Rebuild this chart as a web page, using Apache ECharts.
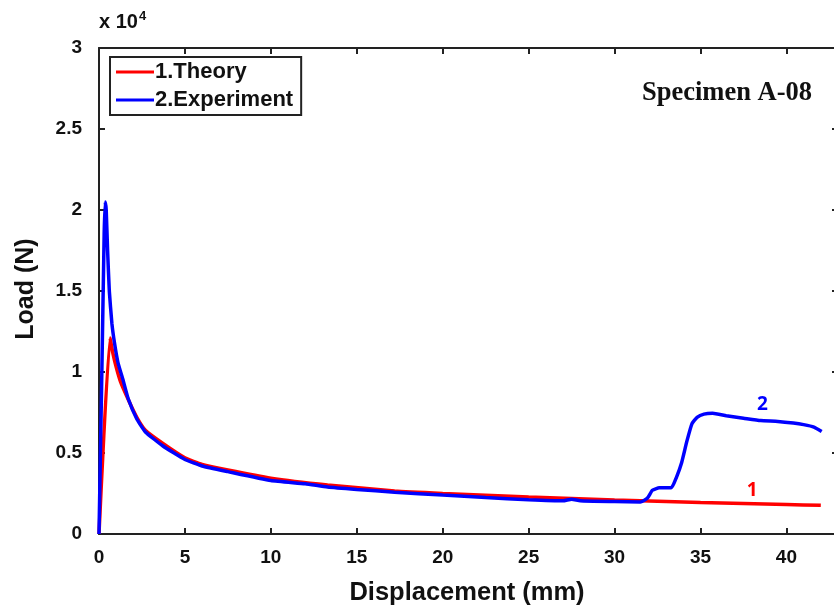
<!DOCTYPE html>
<html>
<head>
<meta charset="utf-8">
<script src="https://cdn.jsdelivr.net/npm/echarts@6/dist/echarts.min.js"></script>
<style>html,body{margin:0;padding:0;background:#fff;}#c{width:834px;height:608px;}</style>
</head>
<body>
<div id="c"></div>
<script>
// Displacement (mm), Load (x10^4 N)
const theoryX = [0, 0.64, 0.8, 1.0, 1.25, 1.7, 2.2, 2.7, 3.7, 5, 6, 7.5, 10, 13.3, 17.2, 20, 25, 30, 35, 40, 42];
const theoryY = [0, 1.21, 1.12, 1.03, 0.94, 0.83, 0.72, 0.64, 0.56, 0.47, 0.43, 0.395, 0.345, 0.303, 0.265, 0.25, 0.228, 0.21, 0.195, 0.182, 0.177];
const expX = [0, 0.15, 0.3, 0.36, 0.42, 0.5, 0.6, 0.75, 0.9, 1.1, 1.4, 1.7, 2.2, 2.7, 3.7, 5, 6, 7.5, 10, 12, 13.3, 15, 17.2, 20, 22.5, 25, 27, 27.5, 28, 30, 31.5, 31.9, 32.2, 32.6, 33.3, 33.6, 33.9, 34.2, 34.5, 34.8, 35.2, 35.7, 36.5, 37.5, 38.5, 39.5, 40.4, 41, 41.6, 42.05];
const expY = [0, 0.9, 1.85, 2.05, 2.0, 1.75, 1.5, 1.3, 1.18, 1.06, 0.95, 0.835, 0.71, 0.63, 0.545, 0.46, 0.42, 0.385, 0.33, 0.31, 0.29, 0.275, 0.258, 0.24, 0.225, 0.212, 0.205, 0.215, 0.205, 0.2, 0.197, 0.22, 0.27, 0.285, 0.285, 0.35, 0.44, 0.57, 0.68, 0.72, 0.74, 0.745, 0.73, 0.715, 0.70, 0.695, 0.685, 0.675, 0.66, 0.633];
const xTicks = [0, 5, 10, 15, 20, 25, 30, 35, 40];
const yTicks = [0, 0.5, 1, 1.5, 2, 2.5, 3];
const seriesNames = ['1.Theory', '2.Experiment'];
const curveTags = ['1', '2'];
const tagPos = [[38.0, 0.27], [38.6, 0.80]];

const theory = theoryX.map((x, i) => [x, theoryY[i]]);
const exp = expX.map((x, i) => [x, expY[i]]);

const SANS = '"Liberation Sans", Arial, sans-serif';
function axLine() { return { show: true, onZero: false, lineStyle: { color: '#222', width: 2 } }; }
function axTick() { return { show: true, inside: true, length: 6, lineStyle: { color: '#222', width: 2 } }; }

const chart = echarts.init(document.getElementById('c'), null, { renderer: 'canvas' });
chart.setOption({
  animation: false,
  backgroundColor: '#fff',
  grid: { left: 99, top: 48, width: 739, bottom: 74, containLabel: false, outerBoundsMode: 'none' },
  legend: {
    left: 110, top: 57, orient: 'vertical',
    data: seriesNames,
    itemWidth: 38, itemHeight: 3, itemGap: 6,
    icon: 'rect',
    padding: [4, 8, 4, 6],
    borderColor: '#222', borderWidth: 2,
    backgroundColor: '#fff',
    textStyle: { fontFamily: SANS, fontWeight: 'bold', fontSize: 22, color: '#111', padding: [0, 0, 0, -4] }
  },
  xAxis: [
    {
      type: 'value', min: 0, max: 43, interval: 5,
      axisLine: axLine(),
      axisTick: axTick(),
      splitLine: { show: false },
      axisLabel: {
        fontFamily: SANS, fontWeight: 'bold', fontSize: 19, color: '#111', margin: 14,
        formatter: v => xTicks.indexOf(v) >= 0 ? String(v) : ''
      }
    },
    {
      type: 'value', min: 0, max: 43, interval: 5, position: 'top',
      axisLine: axLine(),
      axisTick: axTick(),
      splitLine: { show: false },
      axisLabel: { show: false }
    }
  ],
  yAxis: [
    {
      type: 'value', min: 0, max: 3, interval: 0.5,
      axisLine: axLine(),
      axisTick: axTick(),
      splitLine: { show: false },
      axisLabel: {
        fontFamily: SANS, fontWeight: 'bold', fontSize: 19, color: '#111', margin: 17,
        formatter: v => yTicks.indexOf(v) >= 0 ? String(v) : ''
      }
    },
    {
      type: 'value', min: 0, max: 3, interval: 0.5, position: 'right',
      axisLine: axLine(),
      axisTick: axTick(),
      splitLine: { show: false },
      axisLabel: { show: false }
    }
  ],
  graphic: [
    { type: 'text', left: 99, top: 10, style: { rich: { a: { fontFamily: SANS, fontWeight: 'bold', fontSize: 20, fill: '#111' }, s: { fontFamily: SANS, fontWeight: 'bold', fontSize: 13, fill: '#111', verticalAlign: 'top', padding: [0, 0, 12, 1] } }, text: '{a|x 10}{s|4}' } },
    { type: 'text', x: 467, y: 593, style: { text: 'Displacement (mm)', fontFamily: SANS, fontWeight: 'bold', fontSize: 25.5, fill: '#111', textAlign: 'center', textVerticalAlign: 'middle' } },
    { type: 'text', x: 26, y: 289, rotation: Math.PI / 2, style: { text: 'Load (N)', fontFamily: SANS, fontWeight: 'bold', fontSize: 25, fill: '#111', textAlign: 'center', textVerticalAlign: 'middle' } },
    { type: 'text', x: 727, y: 93, style: { text: 'Specimen A-08', fontFamily: '"Liberation Serif", "Times New Roman", serif', fontWeight: 'bold', fontSize: 26.5, fill: '#111', textAlign: 'center', textVerticalAlign: 'middle' } }
  ],
  series: [
    {
      name: seriesNames[0], type: 'line', data: theory, showSymbol: false, smooth: 0.15,
      lineStyle: { color: '#ff0000', width: 3.5 }, itemStyle: { color: '#ff0000' }, z: 2,
      markPoint: { symbol: 'circle', symbolSize: 0, data: [{ coord: tagPos[0], value: curveTags[0] }],
        label: { show: true, formatter: curveTags[0], color: '#ff0000', fontFamily: '"Open Sans", sans-serif', fontWeight: 'bold', fontSize: 19 } }
    },
    {
      name: seriesNames[1], type: 'line', data: exp, showSymbol: false, smooth: 0.15,
      lineStyle: { color: '#0000ff', width: 3.5 }, itemStyle: { color: '#0000ff' }, z: 3,
      markPoint: { symbol: 'circle', symbolSize: 0, data: [{ coord: tagPos[1], value: curveTags[1] }],
        label: { show: true, formatter: curveTags[1], color: '#0000ff', fontFamily: '"Open Sans", sans-serif', fontWeight: 'bold', fontSize: 19 } }
    }
  ]
});
</script>
</body>
</html>
